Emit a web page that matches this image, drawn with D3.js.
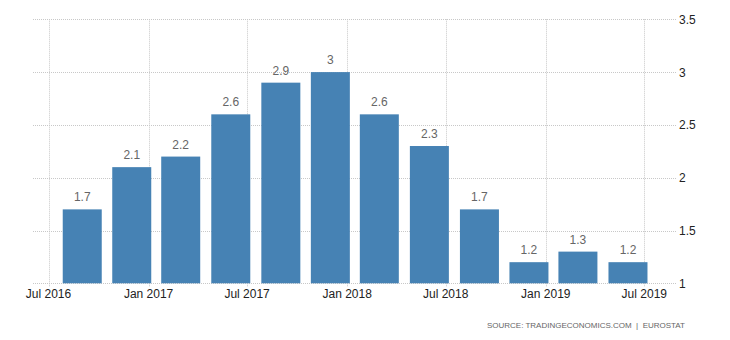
<!DOCTYPE html>
<html>
<head>
<meta charset="utf-8">
<script src="https://cdn.jsdelivr.net/npm/d3@7"></script>
<style>
  html, body { margin: 0; padding: 0; background: #fff; }
  svg { display: block; }
  text { font-family: "Liberation Sans", Arial, sans-serif; }
</style>
</head>
<body>
<svg id="chart" width="730" height="340"></svg>
<script>
// Data
const periods = ["2016-09-01","2016-12-01","2017-03-01","2017-06-01","2017-09-01","2017-12-01",
                 "2018-03-01","2018-06-01","2018-09-01","2018-12-01","2019-03-01","2019-06-01"];
const values = [1.7, 2.1, 2.2, 2.6, 2.9, 3, 2.6, 2.3, 1.7, 1.2, 1.3, 1.2];
const xTickDates = ["2016-07-01","2017-01-01","2017-07-01","2018-01-01","2018-07-01","2019-01-01","2019-07-01"];
const yTicks = [1, 1.5, 2, 2.5, 3, 3.5];
const sourceText = "SOURCE: TRADINGECONOMICS.COM  |  EUROSTAT";

const parse = d3.timeParse("%Y-%m-%d");
const fmt = d3.timeFormat("%b %Y");

const svg = d3.select("#chart");
const plotLeft = 33, plotRight = 676, plotTop = 19.3, plotBottom = 283.3;

const x = d3.scaleTime()
  .domain([parse("2016-07-01"), parse("2019-07-01")])
  .range([48.5, 644.3]);
const y = d3.scaleLinear().domain([1, 3.5]).range([plotBottom, plotTop]);

const gridColor = "#c8c8c8";

// horizontal gridlines
svg.append("g").selectAll("line").data(yTicks).join("line")
  .attr("x1", plotLeft).attr("x2", plotRight)
  .attr("y1", d => Math.round(y(d)) + 0.5).attr("y2", d => Math.round(y(d)) + 0.5)
  .attr("stroke", gridColor).attr("stroke-width", 1).attr("stroke-dasharray", "1,1");

// vertical gridlines + ticks
svg.append("g").selectAll("line").data(xTickDates.map(parse)).join("line")
  .attr("x1", d => Math.round(x(d)) + 0.5).attr("x2", d => Math.round(x(d)) + 0.5)
  .attr("y1", plotTop).attr("y2", plotBottom + 4)
  .attr("stroke", gridColor).attr("stroke-width", 1).attr("stroke-dasharray", "1,1");

// bars
const barW = 39;
svg.append("g").selectAll("rect").data(values).join("rect")
  .attr("x", (d, i) => x(parse(periods[i])) - barW / 2)
  .attr("width", barW)
  .attr("y", d => y(d))
  .attr("height", d => y(1) - y(d))
  .attr("fill", "#4682b4");

// bar labels
svg.append("g").selectAll("text").data(values).join("text")
  .attr("x", (d, i) => x(parse(periods[i])))
  .attr("y", d => y(d) - 8)
  .attr("text-anchor", "middle")
  .attr("font-size", "12px")
  .attr("fill", "#666")
  .text(d => d);

// x axis labels
svg.append("g").selectAll("text").data(xTickDates.map(parse)).join("text")
  .attr("x", d => x(d))
  .attr("y", 298)
  .attr("text-anchor", "middle")
  .attr("font-size", "12px")
  .attr("fill", "#222")
  .text(d => fmt(d));

// y axis labels
svg.append("g").selectAll("text").data(yTicks).join("text")
  .attr("x", 679)
  .attr("y", d => y(d) + 4.5)
  .attr("text-anchor", "start")
  .attr("font-size", "12px")
  .attr("fill", "#222")
  .text(d => d);

// source
svg.append("text")
  .attr("x", 685).attr("y", 328)
  .attr("text-anchor", "end")
  .attr("font-size", "8px")
  .attr("fill", "#666")
  .attr("xml:space", "preserve")
  .style("white-space", "pre")
  .text(sourceText);
</script>
</body>
</html>
